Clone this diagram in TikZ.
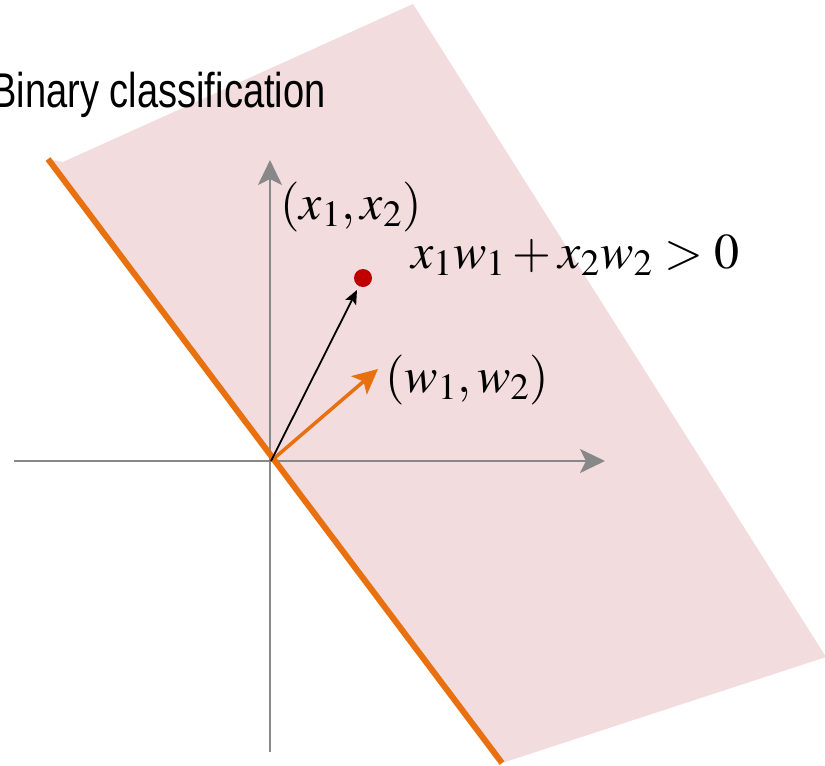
\documentclass[tikz,border=0pt]{standalone}
\usepackage{mathptmx}
\usepackage[no-math]{fontspec}
\newfontfamily\condsans[FakeStretch=0.78]{Liberation Sans}
\usetikzlibrary{arrows.meta}
\definecolor{Blush}{HTML}{F2DCDD}
\definecolor{Rust}{HTML}{E8700F}
\definecolor{Slate}{HTML}{888888}
\definecolor{Berry}{HTML}{C00000}

\begin{document}
\begin{tikzpicture}[x=0.5pt,y=-0.5pt,
    axis/.style={Slate,line width=1pt,-{Stealth[length=12.5pt,width=12pt,inset=3pt]}},
    mathlbl/.style={inner sep=0,anchor=base west,font=\fontsize{25}{28}\selectfont}]
    \useasboundingbox (0,0) rectangle (825,766);
    % half plane
    \fill[Blush] (48,159)--(63,162)--(413,4)--(826,657)--(502,763)--cycle;
    % axes
    \coordinate (O) at (271,461);
    \coordinate (xL) at (14,461);
    \coordinate (xR) at (605,461);
    \coordinate (yB) at (270,752);
    \coordinate (yT) at (270,160);
    \draw[axis] (xL)--(xR);
    \draw[axis] (yB)--(yT);
    % boundary line
    \coordinate (Ltop) at (48,159);
    \coordinate (Lbot) at (502,763);
    \draw[Rust,line width=3pt] (Ltop)--(Lbot);
    % vectors
    \coordinate (W) at (378,369);
    \node[circle,fill=Berry,inner sep=0,minimum size=9pt] (P) at (363,278) {};
    \draw[Rust,line width=1.75pt,-{Stealth[length=12.5pt,width=12pt,inset=3pt]}] (O)--(W);
    \draw[black,line width=0.9pt,-{Stealth[length=7pt,width=6pt,inset=1.5pt]},shorten >=2pt] (O)--(P);
    % labels
    \node[inner sep=0,anchor=base west,font=\condsans\fontsize{24.4}{28}\selectfont] (title) at (-9,107) {Binary classification};
    \node[mathlbl] (xlbl) at (280,219) {$(x_1,x_2)$};
    \node[mathlbl] (rule) at (411,268) {$x_1w_1+x_2w_2>0$};
    \node[mathlbl] (wlbl) at (385,392) {$(w_1,w_2)$};
  \end{tikzpicture}
\end{document}
